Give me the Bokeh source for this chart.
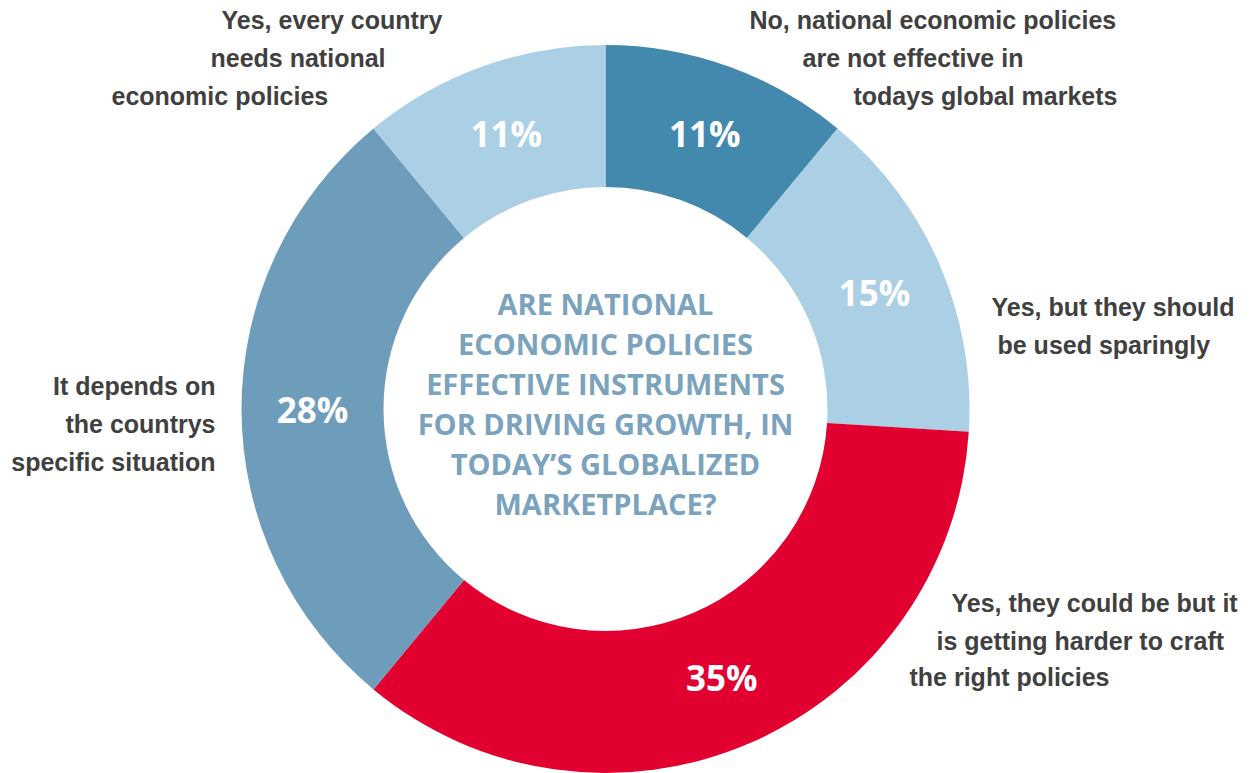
import math
from bokeh.plotting import figure
from bokeh.models import ColumnDataSource, Range1d
from bokeh.core.properties import value
from bokeh.embed import file_html
from bokeh.resources import INLINE

# Survey answers, clockwise from 12 o'clock
answers = [
    "No, national economic policies are not effective in todays global markets",
    "Yes, but they should be used sparingly",
    "Yes, they could be but it is getting harder to craft the right policies",
    "It depends on the countrys specific situation",
    "Yes, every country needs national economic policies",
]
shares = [11, 15, 35, 28, 11]
colors = ["#4389AD", "#ABCFE4", "#E10030", "#6E9DBB", "#ABCFE4"]

# Label text broken into lines, one entry per answer
label_lines = [
    ["No, national economic policies", "are not effective in", "todays global markets"],
    ["Yes, but they should", "be used sparingly"],
    ["Yes, they could be but it", "is getting harder to craft", "the right policies"],
    ["It depends on", "the countrys", "specific situation"],
    ["Yes, every country", "needs national", "economic policies"],
]
# Anchor (x, y in screen pixels) and alignment for each label line
label_anchor = [
    [(749, 19), (802, 57), (853, 95)],
    [(991, 306), (997, 344)],
    [(951, 602), (936, 640), (909, 676)],
    [(215, 385), (215, 423), (215, 461)],
    [(221, 19), (210, 57), (111, 95)],
]
label_align = ["left", "left", "left", "right", "left"]

title_lines = [
    "ARE NATIONAL",
    "ECONOMIC POLICIES",
    "EFFECTIVE INSTRUMENTS",
    "FOR DRIVING GROWTH, IN",
    "TODAY\u2019S GLOBALIZED",
    "MARKETPLACE?",
]

W, H = 1256, 773
CX, CY = 605, H - 408.5
R_OUT, R_IN = 364, 222

p = figure(width=W, height=H, x_range=Range1d(0, W), y_range=Range1d(0, H),
           output_backend="svg", toolbar_location=None, min_border=0)
p.axis.visible = False
p.grid.visible = False
p.outline_line_color = None
p.background_fill_color = "white"
p.border_fill_color = "white"

total = sum(shares)
starts, ends, mids = [], [], []
acc = 0.0
for s in shares:
    a0 = math.pi / 2 - 2 * math.pi * acc / total
    acc += s
    a1 = math.pi / 2 - 2 * math.pi * acc / total
    starts.append(a1)
    ends.append(a0)
    mids.append((a0 + a1) / 2)

src = ColumnDataSource(dict(
    x=[CX] * len(shares), y=[CY] * len(shares),
    start=starts, end=ends, color=colors, answer=answers,
))
p.annular_wedge(x="x", y="y", inner_radius=R_IN, outer_radius=R_OUT,
                start_angle="start", end_angle="end", direction="anticlock",
                fill_color="color", line_color=None, source=src)

# Percentage labels at the middle of each ring segment
r_mid = (R_IN + R_OUT) / 2
pct = ColumnDataSource(dict(
    x=[CX + r_mid * math.cos(m) for m in mids],
    y=[CY + r_mid * math.sin(m) for m in mids],
    t=[f"{s}%" for s in shares],
))
p.text(x="x", y="y", text="t", source=pct, text_color="white",
       text_font=value("Open Sans"), text_font_style="bold", text_font_size="35px",
       text_align="center", text_baseline="middle")

# Question in the hole of the donut
ty = [H - (303 + 40 * i) for i in range(len(title_lines))]
p.text(x=[CX] * len(title_lines), y=ty, text=title_lines, text_color="#7BA3BE",
       text_font=value("Open Sans"), text_font_style="bold", text_font_size="29px",
       text_align="center", text_baseline="middle")

# Answer labels around the ring
for lines, anchors, align in zip(label_lines, label_anchor, label_align):
    p.text(x=[a[0] for a in anchors], y=[H - a[1] for a in anchors], text=lines,
           text_color="#404040", text_font=value("Liberation Sans"),
           text_font_style="bold", text_font_size="25px",
           text_align=align, text_baseline="middle")

open("out.html", "w").write(file_html(p, INLINE))
